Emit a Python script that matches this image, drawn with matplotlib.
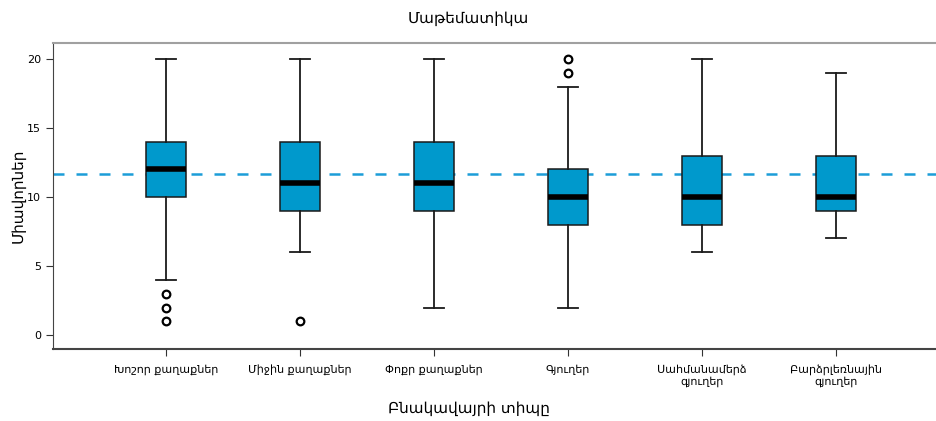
import matplotlib
matplotlib.use('Agg')
import matplotlib.pyplot as plt

# Տվյալներ (կարդացված գծապատկերից)
categories = ['Խոշոր քաղաքներ', 'Միջին քաղաքներ', 'Փոքր քաղաքներ', 'Գյուղեր',
              'Սահմանամերձ\nգյուղեր', 'Բարձրլեռնային\nգյուղեր']
whisker_low = [4, 6, 2, 2, 6, 7]
q1 = [10, 9, 9, 8, 8, 9]
medians = [12, 11, 11, 10, 10, 10]
q3 = [14, 14, 14, 12, 13, 13]
whisker_high = [20, 20, 20, 18, 20, 19]
outliers = [[3, 2, 1], [1], [], [19, 20], [], []]
overall_mean = 11.65

plt.rcParams['font.family'] = ['DejaVu Sans']

stats = []
for i in range(len(categories)):
    stats.append({
        'whislo': whisker_low[i], 'q1': q1[i], 'med': medians[i],
        'q3': q3[i], 'whishi': whisker_high[i], 'fliers': outliers[i],
    })

fig = plt.figure(figsize=(9.37, 4.21), dpi=100)
ax = fig.add_axes([53 / 937, 1 - 349 / 421, 1 - 53 / 937, (349 - 43) / 421])

positions = list(range(1, len(categories) + 1))
ax.axhline(overall_mean, color='#1c9dd8', linestyle=(0, (4.4, 4.8)), linewidth=1.8, zorder=1)
ax.bxp(stats, positions=positions, widths=0.3, patch_artist=True, showcaps=True,
       boxprops=dict(facecolor='#0099cc', edgecolor='#1a1a1a', linewidth=1.1),
       medianprops=dict(color='black', linewidth=4),
       whiskerprops=dict(color='#1a1a1a', linewidth=1.3),
       capprops=dict(color='#1a1a1a', linewidth=1.3),
       flierprops=dict(marker='o', markersize=5.5, markerfacecolor='white',
                       markeredgecolor='black', markeredgewidth=1.6),
       zorder=3)

ax.set_xlim(1 - 113 / 134, 1 + 771 / 134)
ax.set_ylim(-1.0, 21.15)
ax.set_yticks([0, 5, 10, 15, 20])
ax.set_xticks(positions)
ax.set_xticklabels(categories, fontsize=8)
ax.tick_params(axis='y', labelsize=8, length=5, color='#333333')
ax.tick_params(axis='x', length=5, color='#333333', pad=6)

ax.spines['right'].set_visible(False)
ax.spines['top'].set_color('#a0a0a0')
ax.spines['top'].set_linewidth(1.5)
ax.spines['left'].set_color('#444444')
ax.spines['bottom'].set_color('#444444')
ax.spines['bottom'].set_linewidth(1.5)

fig.text(0.5, 1 - 18 / 421, 'Մաթեմատիկա', ha='center', va='center', fontsize=11)
fig.text(0.5, 1 - 408 / 421, 'Բնակավայրի տիպը', ha='center', va='center', fontsize=11)
fig.text(18 / 937, 1 - 196 / 421, 'Միավորներ', ha='center', va='center',
         rotation=90, fontsize=11)

fig.savefig('out.png', dpi=100)
